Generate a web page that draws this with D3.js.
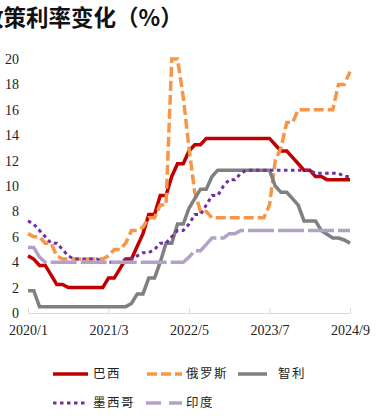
<!DOCTYPE html>
<html>
<head>
<meta charset="utf-8">
<script src="https://cdn.jsdelivr.net/npm/d3@7"></script>
<style>
  html, body { margin: 0; padding: 0; background: #fff; }
  svg { display: block; }
</style>
</head>
<body>
<div id="chart"></div>
<script>
// ---- data ----
const months = [
  "2020/1","2020/2","2020/3","2020/4","2020/5","2020/6","2020/7","2020/8","2020/9","2020/10","2020/11","2020/12",
  "2021/1","2021/2","2021/3","2021/4","2021/5","2021/6","2021/7","2021/8","2021/9","2021/10","2021/11","2021/12",
  "2022/1","2022/2","2022/3","2022/4","2022/5","2022/6","2022/7","2022/8","2022/9","2022/10","2022/11","2022/12",
  "2023/1","2023/2","2023/3","2023/4","2023/5","2023/6","2023/7","2023/8","2023/9","2023/10","2023/11","2023/12",
  "2024/1","2024/2","2024/3","2024/4","2024/5","2024/6","2024/7","2024/8","2024/9"
];
const tickLabels = ["2020/1","2021/3","2022/5","2023/7","2024/9"];
const yTicks = [0,2,4,6,8,10,12,14,16,18,20];

const brazil = [
  4.5,4.25,3.75,3.75,3.0,2.25,2.25,2.0,2.0,2.0,2.0,2.0,
  2.0,2.0,2.75,2.75,3.5,4.25,4.25,5.25,6.25,7.75,7.75,9.25,
  9.25,10.75,11.75,11.75,12.75,13.25,13.25,13.75,13.75,13.75,13.75,13.75,
  13.75,13.75,13.75,13.75,13.75,13.75,13.75,13.25,12.75,12.75,12.25,11.75,
  11.25,11.25,10.75,10.75,10.5,10.5,10.5,10.5,10.5
];
const russia = [
  6.25,6.0,6.0,5.5,5.5,4.5,4.25,4.25,4.25,4.25,4.25,4.25,
  4.25,4.25,4.5,5.0,5.0,5.5,6.5,6.5,6.75,7.5,7.5,8.5,
  8.5,20,20,17,13,9.5,8.0,8.0,7.5,7.5,7.5,7.5,
  7.5,7.5,7.5,7.5,7.5,7.5,8.5,12,13,15,15,16,
  16,16,16,16,16,16,18,18,19
];
const chile = [
  1.75,1.75,0.5,0.5,0.5,0.5,0.5,0.5,0.5,0.5,0.5,0.5,
  0.5,0.5,0.5,0.5,0.5,0.5,0.75,1.5,1.5,2.75,2.75,4.0,
  5.5,5.5,7.0,7.0,8.25,9.0,9.75,9.75,10.75,11.25,11.25,11.25,
  11.25,11.25,11.25,11.25,11.25,11.25,11.25,10.0,9.5,9.5,9.0,8.5,
  7.25,7.25,7.25,6.5,6.2,5.9,5.9,5.75,5.5
];
const mexico = [
  7.25,7.0,6.5,6.0,5.5,5.5,5.0,4.5,4.25,4.25,4.25,4.25,
  4.25,4.0,4.0,4.0,4.0,4.25,4.25,4.5,4.75,4.75,5.0,5.5,
  5.5,6.0,6.5,6.5,7.0,7.75,7.75,8.5,9.25,9.25,10.0,10.5,
  10.5,11.0,11.25,11.25,11.25,11.25,11.25,11.25,11.25,11.25,11.25,11.25,
  11.25,11.25,11.0,11.0,11.0,11.0,11.0,10.75,10.75
];
const india = [
  5.15,5.15,4.4,4.0,4.0,4.0,4.0,4.0,4.0,4.0,4.0,4.0,
  4.0,4.0,4.0,4.0,4.0,4.0,4.0,4.0,4.0,4.0,4.0,4.0,
  4.0,4.0,4.0,4.0,4.4,4.9,4.9,5.4,5.9,5.9,5.9,6.25,
  6.25,6.5,6.5,6.5,6.5,6.5,6.5,6.5,6.5,6.5,6.5,6.5,
  6.5,6.5,6.5,6.5,6.5,6.5,6.5,6.5,6.5
];
const seriesNames = ["巴西","俄罗斯","智利","墨西哥","印度"];

// ---- styles ----
const styles = {
  "巴西":   {color:"#C00000", width:3.5, dash:null},
  "俄罗斯": {color:"#F79646", width:3.5, dash:"10,4"},
  "智利":   {color:"#808080", width:3.5, dash:null},
  "墨西哥": {color:"#7030A0", width:3,   dash:"3.5,3.5"},
  "印度":   {color:"#B3A2C7", width:3.5, dash:"26,4"}
};
const seriesData = {"巴西":brazil,"俄罗斯":russia,"智利":chile,"墨西哥":mexico,"印度":india};

const W = 378, H = 418;
const svg = d3.select("#chart").append("svg").attr("width", W).attr("height", H);

const x = d3.scalePoint().domain(months).range([28, 350]);
const y = d3.scaleLinear().domain([0, 20]).range([313, 59]);

// title
svg.append("text")
  .attr("x", -19).attr("y", 26)
  .attr("font-family", "'Noto Sans CJK SC', sans-serif")
  .attr("font-size", 22.5).attr("font-weight", "bold")
  .attr("fill", "#111")
  .text("政策利率变化（%）");

// y axis labels
svg.append("g").selectAll("text").data(yTicks).join("text")
  .attr("x", 19).attr("y", d => y(d)).attr("dy", "0.35em")
  .attr("text-anchor", "end")
  .attr("font-family", "'Liberation Serif', serif")
  .attr("font-size", 14).attr("fill", "#222")
  .text(d => d);

// x axis
const xAxis = d3.axisBottom(x).tickValues(tickLabels).tickSizeInner(-5).tickSizeOuter(0).tickPadding(12);
const gx = svg.append("g").attr("transform", "translate(0,313)").call(xAxis);
gx.select(".domain").attr("stroke", "#D9D9D9");
gx.selectAll(".tick line").attr("stroke", "#D9D9D9");
gx.selectAll(".tick text")
  .attr("font-family", "'Liberation Serif', serif")
  .attr("font-size", 14).attr("fill", "#222");

// lines
const line = d3.line().x((d, i) => x(months[i])).y(d => y(d));
seriesNames.forEach(name => {
  const s = styles[name];
  svg.append("path")
    .datum(seriesData[name])
    .attr("fill", "none")
    .attr("stroke", s.color)
    .attr("stroke-width", s.width)
    .attr("stroke-dasharray", s.dash)
    .attr("d", line);
});

// legend
const legendItems = [
  {name:"巴西",   x1:53,  x2:88,  tx:93,  y:374},
  {name:"俄罗斯", x1:147, x2:182, tx:186, y:374},
  {name:"智利",   x1:238, x2:267, tx:278, y:374},
  {name:"墨西哥", x1:53,  x2:86,  tx:93,  y:403},
  {name:"印度",   x1:146, x2:182, tx:186, y:403}
];
const lg = svg.append("g");
legendItems.forEach(it => {
  const s = styles[it.name];
  lg.append("line")
    .attr("x1", it.x1).attr("x2", it.x2).attr("y1", it.y).attr("y2", it.y)
    .attr("stroke", s.color).attr("stroke-width", s.width)
    .attr("stroke-dasharray", it.name === "印度" ? "15,8" : s.dash);
  lg.append("text")
    .attr("x", it.tx).attr("y", it.y).attr("dy", "0.35em")
    .attr("font-family", "'Noto Sans CJK SC', sans-serif")
    .attr("font-size", 12.5).attr("letter-spacing", "1.5px")
    .attr("fill", "#222")
    .text(it.name);
});
</script>
</body>
</html>
